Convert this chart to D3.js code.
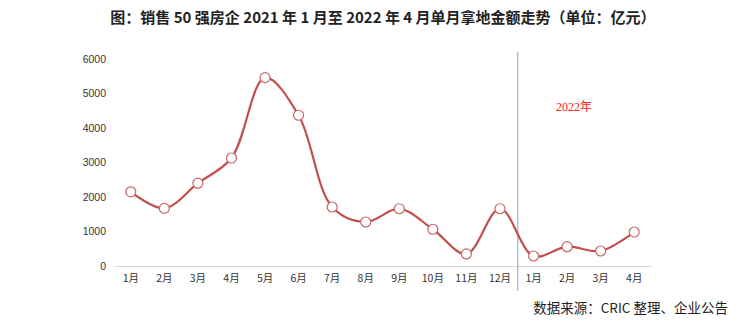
<!DOCTYPE html>
<html>
<head>
<meta charset="utf-8">
<style>
  body { margin: 0; background: #fff; }
  svg text { font-family: "Liberation Sans", "Noto Sans CJK SC", sans-serif; }
</style>
</head>
<body>
<div id="chart"></div>
<script src="https://d3js.org/d3.v7.min.js"></script>
<script>
    // 2021年1月 ~ 2022年4月 (亿元)
    var months = ["1月", "2月", "3月", "4月", "5月", "6月", "7月", "8月", "9月", "10月", "11月", "12月", "1月", "2月", "3月", "4月"];
    var keys = months.map((m, i) => (i < 12 ? "2021-" : "2022-") + m);
    var values = [2150, 1670, 2400, 3130, 5460, 4370, 1710, 1275, 1660, 1065, 350, 1660, 290, 560, 435, 985];
    var yTicks = [0, 1000, 2000, 3000, 4000, 5000, 6000];
    var splitAt = 12; // 2022年 starts here

    var W = 740, H = 328;
    var svg = d3.select("#chart").append("svg")
        .attr("width", W)
        .attr("height", H);

    var x = d3.scaleBand()
        .domain(keys)
        .range([114, 651]);

    var y = d3.scaleLinear()
        .domain([0, 6000])
        .range([266, 59]);

    // title
    svg.append("text")
        .attr("x", 383)
        .attr("y", 23)
        .attr("text-anchor", "middle")
        .style("font-family", "'Noto Sans CJK SC', sans-serif")
        .style("font-size", "15px")
        .style("font-weight", "bold")
        .attr("fill", "#222")
        .text("图：销售 50 强房企 2021 年 1 月至 2022 年 4 月单月拿地金额走势（单位：亿元）");

    // y axis labels (no line)
    var yAxis = d3.axisLeft(y).tickValues(yTicks).tickFormat(d3.format("d")).tickSize(0).tickPadding(0);
    var gy = svg.append("g")
        .attr("transform", "translate(106,0)")
        .call(yAxis);
    gy.select(".domain").remove();
    gy.selectAll("text")
        .style("font-family", "'Liberation Sans', sans-serif")
        .style("font-size", "10.5px")
        .attr("fill", "#333");

    // x axis
    var xAxis = d3.axisBottom(x).tickSize(0).tickPadding(9).tickFormat((d, i) => months[i]);
    var gx = svg.append("g")
        .attr("transform", "translate(0," + y(0) + ")")
        .call(xAxis);
    gx.select(".domain").attr("stroke", "#d9d9d9").attr("stroke-width", 1);
    gx.selectAll("text")
        .style("font-size", "10.5px")
        .style("font-family", "'Noto Sans CJK SC', sans-serif")
        .attr("fill", "#333");

    // year split line
    var sx = x(keys[splitAt]) + 1;
    svg.append("line")
        .attr("x1", sx).attr("x2", sx)
        .attr("y1", 52).attr("y2", 291)
        .attr("stroke", "#9dbbdc")
        .attr("stroke-width", 1.3);

    svg.append("text")
        .attr("x", 574)
        .attr("y", 111)
        .attr("text-anchor", "middle")
        .style("font-family", "'Liberation Serif', 'Noto Sans CJK SC', serif")
        .style("font-size", "12px")
        .attr("fill", "#ff2020")
        .text("2022年");

    // line
    var cx = d => x(d.k) + x.bandwidth() / 2;
    var pts = keys.map((k, i) => ({ k: k, v: values[i] }));
    var line = d3.line()
        .x(cx)
        .y(d => y(d.v))
        .curve(d3.curveCatmullRom.alpha(0.5));

    svg.append("path")
        .datum(pts)
        .attr("d", line)
        .attr("fill", "none")
        .attr("stroke", "#c0504d")
        .attr("stroke-width", 2.2);

    svg.selectAll(".pt")
        .data(pts)
        .enter()
        .append("circle")
        .attr("class", "pt")
        .attr("cx", cx)
        .attr("cy", d => y(d.v))
        .attr("r", 5)
        .attr("fill", "#fff")
        .attr("stroke", "#c9676a")
        .attr("stroke-width", 1.2);

    // source
    svg.append("text")
        .attr("x", 728)
        .attr("y", 313)
        .attr("text-anchor", "end")
        .style("font-family", "'Noto Sans CJK SC', sans-serif")
        .style("font-size", "13.5px")
        .attr("fill", "#222")
        .text("数据来源：CRIC 整理、企业公告");
</script>
</body>
</html>
